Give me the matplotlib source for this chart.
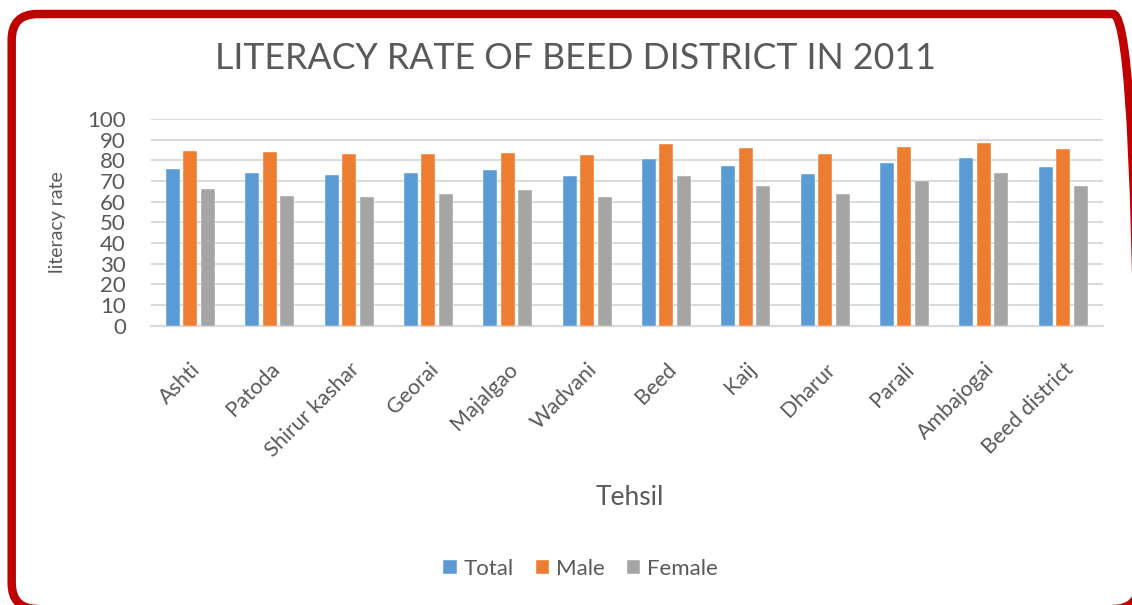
import matplotlib
matplotlib.use("Agg")
import matplotlib.pyplot as plt
import numpy as np
from matplotlib.patches import FancyBboxPatch
from matplotlib.transforms import IdentityTransform
from matplotlib import font_manager

categories = ["Ashti", "Patoda", "Shirur kashar", "Georai", "Majalgao", "Wadvani",
              "Beed", "Kaij", "Dharur", "Parali", "Ambajogai", "Beed district"]
total = [75.6, 73.9, 72.9, 73.9, 75.2, 72.6, 80.6, 77.3, 73.5, 78.5, 81.3, 76.9]
male = [84.7, 84.0, 83.1, 83.1, 83.7, 82.6, 88.1, 86.0, 82.9, 86.3, 88.4, 85.3]
female = [66.1, 62.7, 62.1, 63.9, 65.8, 62.1, 72.6, 67.6, 63.5, 70.2, 73.9, 67.6]
series_names = ["Total", "Male", "Female"]
colors = ["#5B9BD5", "#ED7D31", "#A5A5A5"]
yticks = list(range(0, 101, 10))

plt.rcParams['font.family'] = ['Lato', 'DejaVu Sans']
TXT = "#595959"

names = {f.name for f in font_manager.fontManager.ttflist}
title_family = ['Liberation Sans Narrow', 'Lato'] if 'Liberation Sans Narrow' in names else ['Lato']

fig = plt.figure(figsize=(11.32, 6.05), dpi=100)
fig.patch.set_facecolor("white")
ax = fig.add_axes([0.1332, 0.4617, 0.8409, 0.3417])

x = np.arange(len(categories))
bw = 0.1765
step = 0.2207
for i, (vals, name, c) in enumerate(zip([total, male, female], series_names, colors)):
    ax.bar(x + (i - 1) * step, vals, width=bw, color=c, label=name, zorder=3,
           edgecolor="white", linewidth=0.3)

ax.set_xlim(-0.5, len(categories) - 0.5)
ax.set_ylim(0, 100)
ax.set_yticks(yticks)
ax.set_yticklabels([str(v) for v in yticks], fontsize=16, color=TXT)
ax.grid(axis="y", color="#D9D9D9", linewidth=1.4, zorder=0)
ax.set_axisbelow(True)
for s in ["top", "right", "left"]:
    ax.spines[s].set_visible(False)
ax.spines["bottom"].set_color("#D9D9D9")
ax.spines["bottom"].set_linewidth(1.6)
ax.tick_params(axis="both", length=0)
ax.tick_params(axis="y", pad=18)
ax.tick_params(axis="x", pad=24)
ax.set_xticks(x)
ax.set_xticklabels(categories, rotation=45, ha="right", va="top",
                   rotation_mode="anchor", fontsize=15.5, color=TXT)

ax.set_ylabel("literacy rate", fontsize=14, color=TXT)
ax.yaxis.set_label_coords(-0.089, 0.5)

title = fig.text(0.508, 0.904, "LITERACY RATE OF BEED DISTRICT IN 2011", ha="center",
                 va="center", fontsize=30, color=TXT, family=title_family)
fig.canvas.draw()
w = title.get_window_extent().width
title.set_fontsize(30 * 720.0 / w)

fig.text(0.5565, 0.1769, "Tehsil", ha="center", va="center", fontsize=19, color=TXT)

handles, labels = ax.get_legend_handles_labels()
leg = fig.legend(handles, labels, loc="center", bbox_to_anchor=(0.5128, 0.0595),
                 ncol=3, frameon=False, fontsize=16, handlelength=0.6,
                 handleheight=0.6, handletextpad=0.3, columnspacing=1.0)
for t in leg.get_texts():
    t.set_color(TXT)

frame = FancyBboxPatch((11.7, -4), 1139 - 11.7, 595,
                       boxstyle="round,pad=0,rounding_size=26",
                       transform=IdentityTransform(), facecolor="none",
                       edgecolor="#C00000", linewidth=6.1, clip_on=False)
fig.add_artist(frame)

fig.savefig("out.png", dpi=100)
